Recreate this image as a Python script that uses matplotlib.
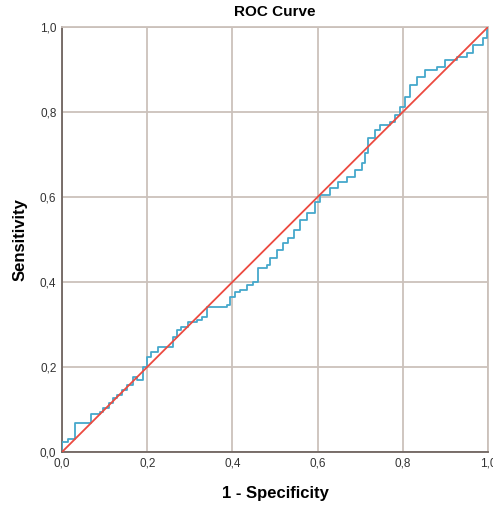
"""ROC curve, SPSS style: step curve against the diagonal reference line."""

import matplotlib
matplotlib.use("Agg")
import matplotlib.pyplot as plt

# ROC vertices (1 - specificity, sensitivity)
fpr = [0.000, 0.000, 0.015, 0.031, 0.067, 0.089, 0.097, 0.110, 0.120, 0.130,
       0.140, 0.152, 0.167, 0.176, 0.190, 0.200, 0.210, 0.225, 0.245, 0.260,
       0.270, 0.280, 0.296, 0.317, 0.328, 0.340, 0.387, 0.395, 0.406, 0.418,
       0.434, 0.448, 0.460, 0.481, 0.488, 0.505, 0.519, 0.531, 0.545, 0.559,
       0.575, 0.594, 0.606, 0.629, 0.648, 0.669, 0.688, 0.704, 0.711, 0.718,
       0.735, 0.746, 0.770, 0.782, 0.793, 0.805, 0.817, 0.833, 0.852, 0.880,
       0.899, 0.927, 0.951, 0.965, 0.988, 0.997, 1.000]
tpr = [0.000, 0.024, 0.030, 0.069, 0.089, 0.095, 0.104, 0.115, 0.127, 0.135,
       0.146, 0.158, 0.176, 0.170, 0.200, 0.224, 0.235, 0.247, 0.247, 0.270,
       0.287, 0.294, 0.306, 0.310, 0.318, 0.341, 0.346, 0.365, 0.376, 0.381,
       0.393, 0.400, 0.433, 0.440, 0.456, 0.475, 0.492, 0.504, 0.522, 0.546,
       0.562, 0.588, 0.605, 0.621, 0.635, 0.647, 0.664, 0.680, 0.704, 0.739,
       0.758, 0.769, 0.776, 0.793, 0.812, 0.835, 0.864, 0.882, 0.899, 0.906,
       0.922, 0.929, 0.939, 0.958, 0.974, 0.993, 1.000]

ticks = [0.0, 0.2, 0.4, 0.6, 0.8, 1.0]
tick_labels = ["0,0", "0,2", "0,4", "0,6", "0,8", "1,0"]

plt.rcParams["font.family"] = ["Liberation Sans", "DejaVu Sans"]

grid_col = "#cbc1bb"
fig = plt.figure(figsize=(4.93, 5.11), dpi=100)
ax = fig.add_axes([62 / 493, 59 / 511, 426 / 493, 425 / 511])

ax.plot(fpr, tpr, drawstyle="steps-post", color="#45a8cc", lw=1.3, zorder=3)
ax.plot([0, 1], [0, 1], color="#ec4a40", lw=1.3, zorder=4)

ax.set_xlim(0, 1)
ax.set_ylim(0, 1)
ax.set_xticks(ticks)
ax.set_yticks(ticks)
ax.set_xticklabels(tick_labels)
ax.set_yticklabels(tick_labels)
ax.tick_params(length=0, labelsize=8.5, labelcolor="#333333", pad=4)
ax.grid(True, color=grid_col, lw=1.3)
ax.set_axisbelow(True)

for side in ("top", "right"):
    ax.spines[side].set_color(grid_col)
    ax.spines[side].set_linewidth(1.3)
for side in ("left", "bottom"):
    ax.spines[side].set_color("#6f6560")
    ax.spines[side].set_linewidth(1.3)

ax.set_title("ROC Curve", fontsize=11, fontweight="bold", pad=8)
ax.set_xlabel("1 - Specificity", fontsize=12, fontweight="bold", labelpad=12)
ax.set_ylabel("Sensitivity", fontsize=12, fontweight="bold", labelpad=9)

fig.savefig("out.png", dpi=100)
